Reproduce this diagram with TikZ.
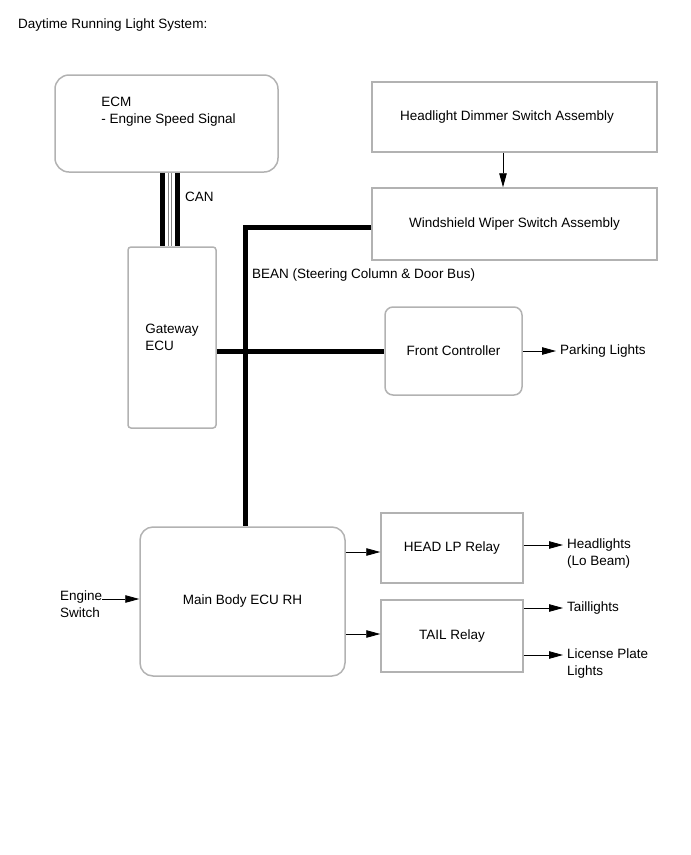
\documentclass[tikz,border=0pt]{standalone}
\usepackage{fontspec}
\setmainfont{Liberation Sans}
\usetikzlibrary{arrows.meta}

\begin{document}
\begin{tikzpicture}[
            x=1pt, y=-1pt,
            every node/.style={font=\fontsize{13.5}{17}\selectfont},
            ecubox/.style={draw=black!30, line width=1.5pt, inner sep=0pt, rounded corners=14pt},
            switchbox/.style={draw=black!30, line width=1.5pt, inner sep=0pt},
            plaintext/.style={align=left, inner sep=0pt},
            outlabel/.style={align=left, anchor=west, inner xsep=4pt, inner ysep=0pt},
            bus/.style={color=black, line width=5pt},
            signal/.style={color=black, line width=0.8pt, -{Triangle[length=14pt, width=7.5pt]}}
        ]
            \useasboundingbox (0, 0) rectangle (691, 855);

            % title
            \node[plaintext, anchor=west] (title) at (18, 25) {Daytime Running Light System:};

            % control units
            \node[ecubox, minimum width=223pt, minimum height=97pt] (ecm) at (166.5, 123.5) {};
            \node[plaintext] (ecmtext) at (168.5, 111.5) {ECM\\- Engine Speed Signal};
            \node[ecubox, rounded corners=3pt, minimum width=88pt, minimum height=181pt, align=left] (gateway) at (172, 337.5) {Gateway\\ECU};
            \node[ecubox, rounded corners=8pt, minimum width=137pt, minimum height=88pt] (front) at (453.5, 351) {Front Controller};
            \node[ecubox, rounded corners=13pt, minimum width=205pt, minimum height=149pt] (mainbody) at (242.5, 601.5) {Main Body ECU RH};

            % switches and relays
            \node[switchbox, minimum width=285pt, minimum height=70pt] (dimmer) at (514.5, 117) {\hspace*{-15pt}Headlight Dimmer Switch Assembly};
            \node[switchbox, minimum width=285pt, minimum height=72pt] (wiper) at (514.5, 224) {Windshield Wiper Switch Assembly};
            \node[switchbox, minimum width=142pt, minimum height=70pt] (headlp) at (452, 548) {HEAD LP Relay};
            \node[switchbox, minimum width=142pt, minimum height=72pt] (tail) at (452, 636) {TAIL Relay};

            % CAN (between ECM and gateway)
            \foreach \dx/\w/\c in {-4/5/black, 11/5/black, 1.8/0.8/black!50, 5.2/0.8/black!50}{
                \draw[line width=\w pt, color=\c] ([xshift=\dx pt]ecm.south) -- ([xshift=\dx pt]ecm.south |- gateway.north);
            }
            \node[plaintext, anchor=west] (canlabel) at (185, 197) {CAN};

            % BEAN
            \draw[bus] ([yshift=-3pt]wiper.west) -| ([xshift=2.5pt]mainbody.north);
            \draw[bus] (gateway.east |- front.west) -- (front.west);
            \node[plaintext, anchor=west] (beanlabel) at (252, 275) {BEAN (Steering Column \& Door Bus)};

            % dimmer to wiper switch
            \draw[signal] ([xshift=-11.5pt]dimmer.south) -- ([xshift=-11.5pt]wiper.north);

            % inputs
            \node[plaintext, anchor=west] (engine) at (60, 604.5) {Engine\\Switch};
            \draw[signal] ([yshift=5.5pt]engine.east) -- ([yshift=2.5pt]mainbody.west);

            % main body to relays
            \draw[signal] ([yshift=-4pt]headlp.west -| mainbody.east) -- ([yshift=-4pt]headlp.west);
            \draw[signal] ([yshift=2pt]tail.west -| mainbody.east) -- ([yshift=2pt]tail.west);

            % outputs
            \node[outlabel] (parking) at (556, 351) {Parking Lights};
            \node[outlabel] (headlights) at (563, 553.5) {Headlights\\(Lo Beam)};
            \node[outlabel] (taillights) at (563, 608) {Taillights};
            \node[outlabel] (license) at (563, 663.5) {License Plate\\Lights};

            \draw[signal] (front.east) -- (parking.west);
            \draw[signal] ([yshift=3pt]headlp.east) -- ([yshift=3pt]headlp.east -| headlights.west);
            \draw[signal] ([yshift=28pt]tail.east) -- (taillights.west);
            \draw[signal] ([yshift=-19pt]tail.east) -- ([yshift=-19pt]tail.east -| license.west);

        \end{tikzpicture}
\end{document}
